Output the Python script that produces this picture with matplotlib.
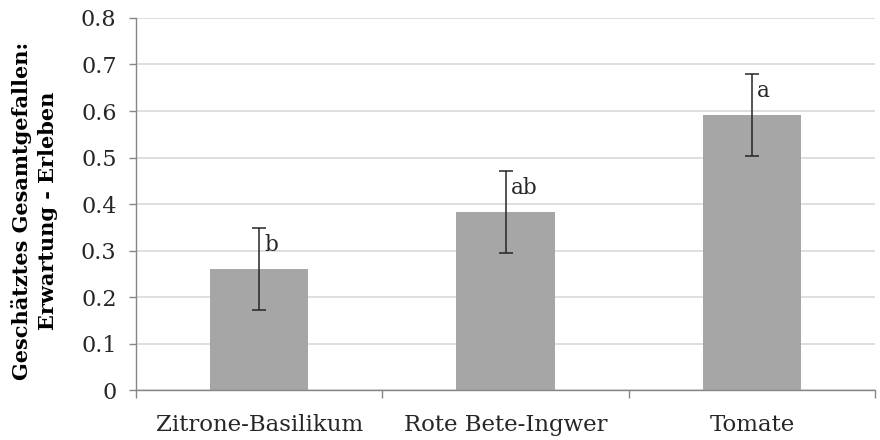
import matplotlib
matplotlib.use('Agg')
import matplotlib.pyplot as plt

# data
categories = ['Zitrone-Basilikum', 'Rote Bete-Ingwer', 'Tomate']
means = [0.26, 0.382, 0.591]
errors = [0.088, 0.088, 0.088]
letters = ['b', 'ab', 'a']
y_ticks = [0, 0.1, 0.2, 0.3, 0.4, 0.5, 0.6, 0.7, 0.8]

plt.rcParams['font.family'] = ['DejaVu Serif']

fig = plt.figure(figsize=(8.8, 4.4), dpi=100)
ax = fig.add_axes([0.1545, 0.1136, 0.84, 0.8455])

x = list(range(len(categories)))
ax.bar(x, means, width=0.4, color='#a6a6a6', zorder=2)
ax.errorbar(x, means, yerr=errors, fmt='none', ecolor='#262626',
            elinewidth=1.1, capsize=4.8, capthick=1.1, zorder=3)

# significance letters next to the error bar caps
for xi, m, e, lab in zip(x, means, errors, letters):
    ax.annotate(lab, xy=(xi, m + e), xytext=(3.5, -4), textcoords='offset points',
                ha='left', va='top', fontsize=15.5, color='#262626')

ax.set_xlim(-0.5, 2.5)
ax.set_ylim(0, 0.8)
ax.set_yticks(y_ticks)
ax.set_yticklabels(['0'] + ['%.1f' % v for v in y_ticks[1:]])
ax.set_xticks(x)
ax.set_xticklabels(categories)
ax.set_xticks([-0.5, 0.5, 1.5, 2.5], minor=True)

ax.tick_params(axis='x', which='major', length=0, pad=17, labelsize=16.5, colors='#262626')
ax.tick_params(axis='x', which='minor', length=6, color='#868686', width=1)
ax.tick_params(axis='y', length=5, color='#868686', width=1, labelsize=16,
               labelcolor='#262626', pad=9)

ax.yaxis.grid(True, color='#d9d9d9', linewidth=1.2, zorder=0)
ax.set_axisbelow(True)
for side in ['top', 'right']:
    ax.spines[side].set_visible(False)
for side in ['left', 'bottom']:
    ax.spines[side].set_color('#868686')
    ax.spines[side].set_linewidth(1)

fig.text(0.039, 0.52, 'Geschätztes Gesamtgefallen:\nErwartung - Erleben',
         rotation=90, ha='center', va='center', multialignment='center',
         fontsize=15, fontweight='bold', color='#000000', linespacing=1.4)

fig.savefig('out.png', dpi=100)
